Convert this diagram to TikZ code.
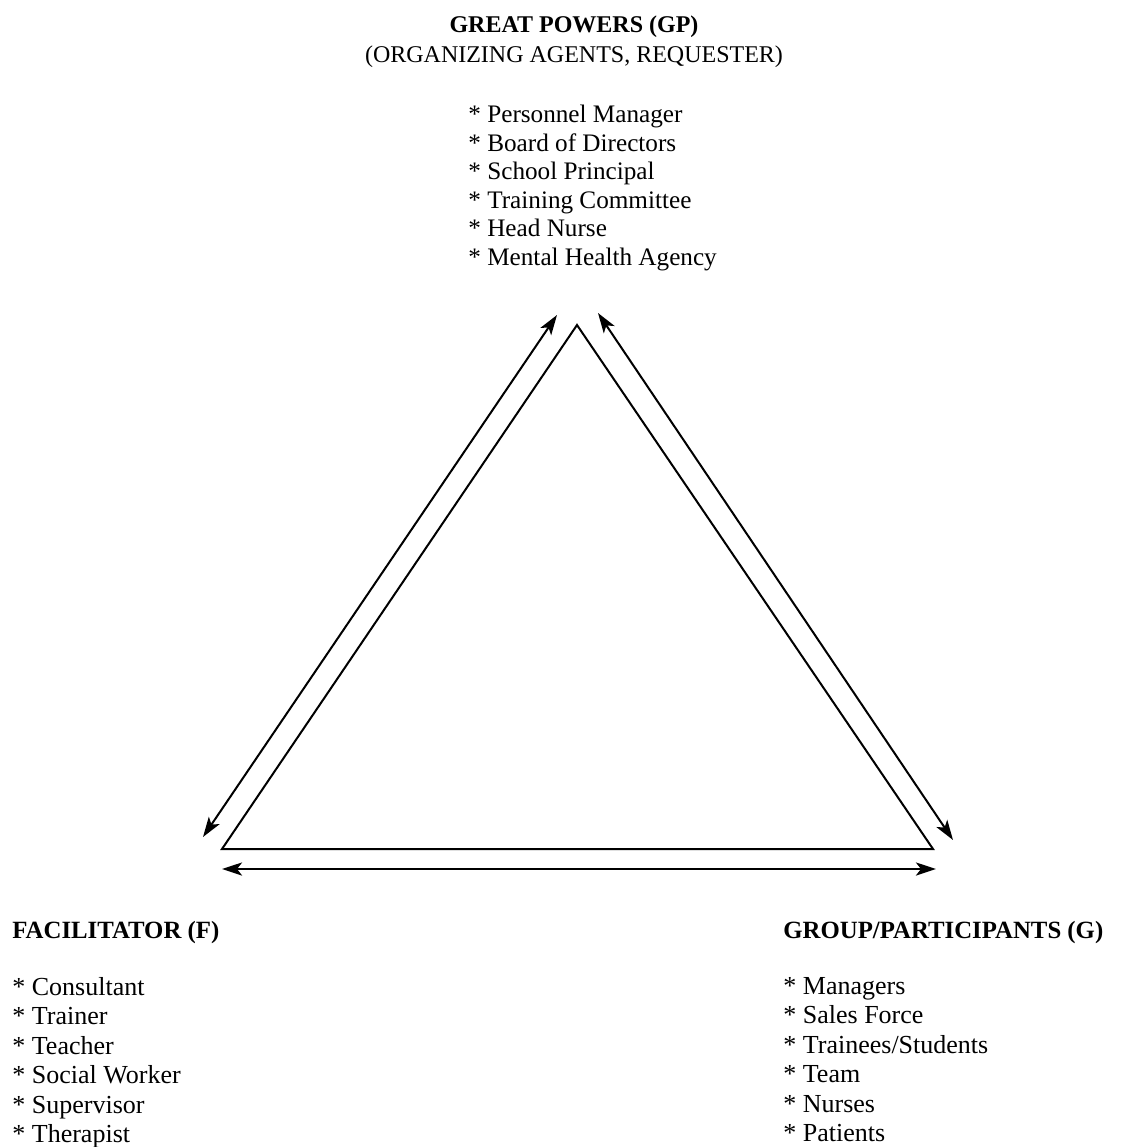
\documentclass[tikz,border=0pt]{standalone}
\usepackage{fontspec}
\setmainfont{Liberation Serif}
\usetikzlibrary{arrows.meta,positioning}

\begin{document}
\begin{tikzpicture}[
    x=0.5pt, y=-0.5pt,
    head/.style={inner sep=0pt, font=\fontsize{12}{15}\selectfont},
    items/.style={inner sep=0pt, align=left, font=\fontsize{13}{14.75}\selectfont},
    side/.style={line width=1pt},
    tip/.style={Stealth[length=10pt,width=6.5pt,inset=2.5pt]},
    dbl/.style={{Stealth[length=10pt,width=6.5pt,inset=2.5pt]}-{Stealth[length=10pt,width=6.5pt,inset=2.5pt]}, line width=1pt}
]
    \useasboundingbox (0,0) rectangle (1125,1147);

    % the three corners
    \coordinate (gp) at (577,325);
    \coordinate (fac) at (222,849);
    \coordinate (grp) at (933,849);

    % arrow ends
    \coordinate (gpL) at (557,315);
    \coordinate (facL) at (203,837);
    \coordinate (gpR) at (598,313);
    \coordinate (grpR) at (953,840);
    \coordinate (facB) at (222,869);
    \coordinate (grpB) at (936,869);

    \draw[side] (gp) -- (fac) -- (grp) -- cycle;

    \draw[dbl] (gpL) -- (facL);
    \draw[dbl] (gpR) -- (grpR);
    \draw[dbl, line width=1.3pt] (facB) -- (grpB);

    % labels
    \node[head, align=center, anchor=north] (gphead) at (574,15)
        {\textbf{GREAT POWERS (GP)}\\(ORGANIZING AGENTS, REQUESTER)};
    \node[items, anchor=north west, font=\fontsize{12.6}{14.25}\selectfont] (gpitems) at (468,105)
        {* Personnel Manager\\* Board of Directors\\* School Principal\\* Training Committee\\* Head Nurse\\* Mental Health Agency};

    \node[head, anchor=base west, font=\fontsize{12.4}{15}\selectfont\bfseries] (fachead) at (12,938) {FACILITATOR (F)};
    \node[items, below=19.5pt of fachead.base west, anchor=north west] (facitems)
        {* Consultant\\* Trainer\\* Teacher\\* Social Worker\\* Supervisor\\* Therapist};

    \node[head, anchor=base west, font=\fontsize{12.4}{15}\selectfont\bfseries] (grphead) at (783,938) {GROUP/PARTICIPANTS (G)};
    \node[items, below=19.5pt of grphead.base west, anchor=north west] (grpitems)
        {* Managers\\* Sales Force\\* Trainees/Students\\* Team\\* Nurses\\* Patients};
\end{tikzpicture}
\end{document}
